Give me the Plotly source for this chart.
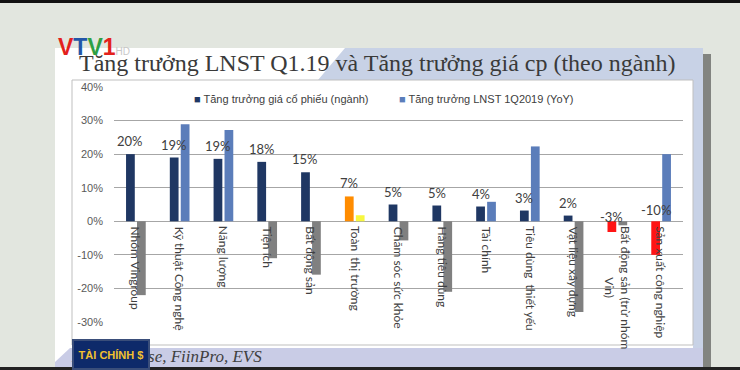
import plotly.graph_objects as go

categories = ["Nhóm Vingroup", "Kỹ thuật Công nghệ", "Năng lượng", "Tiện ích", "Bất động sản",
              "Toàn  thị trường", "Chăm sóc sức khỏe", "Hàng tiêu dùng", "Tài chính",
              "Tiêu dùng  thiết yếu", "Vật liệu xây dựng", "Bất động sản (trừ nhóm<br>Vin)",
              "Sản xuất công nghiệp"]
price_growth = [20.0, 19.0, 18.6, 17.7, 14.6, 7.4, 5.0, 4.7, 4.4, 3.2, 1.7, -3.2, -10.0]
profit_growth = [-22.0, 28.9, 27.2, -11.0, -15.9, 1.8, -5.7, -21.0, 5.8, 22.3, -27.0, -1.2, 20.0]
y_ticks = [-30, -20, -10, 0, 10, 20, 30, 40]
series_names = ["Tăng trưởng giá cổ phiếu (ngành)", "Tăng trưởng LNST 1Q2019 (YoY)"]

NAVY = "#1F3763"
LBLUE = "#5B7DBA"
GRAY = "#808080"
ORANGE = "#FF8C00"
YELLOW = "#F7F740"
RED = "#FF1414"
MARKET = "Toàn  thị trường"

c1 = [ORANGE if c == MARKET else (RED if v < 0 else NAVY) for c, v in zip(categories, price_growth)]
c2 = [YELLOW if c == MARKET else (GRAY if v < 0 else LBLUE) for c, v in zip(categories, profit_growth)]

W, H = 740, 370
L, R, T, B = 114, 683, 87, 322


def px(x):
    return (x - L) / (R - L)


def py(y):
    return (B - y) / (B - T)


fig = go.Figure()
fig.add_trace(go.Bar(x=categories, y=price_growth, name=series_names[0], marker=dict(color=c1, line_width=0)))
fig.add_trace(go.Bar(x=categories, y=profit_growth, name=series_names[1], marker=dict(color=c2, line_width=0)))

shapes = []
shapes.append(dict(type="rect", xref="paper", yref="paper", x0=px(0), x1=px(W), y0=py(0), y1=py(3),
                   fillcolor="#111111", line_width=0, layer="below"))
shapes.append(dict(type="rect", xref="paper", yref="paper", x0=px(703), x1=px(711), y0=py(54), y1=py(370),
                   fillcolor="#6A6C68", line_width=0, layer="below", opacity=0.8))
shapes.append(dict(type="rect", xref="paper", yref="paper", x0=px(55), x1=px(703), y0=py(48), y1=py(370),
                   fillcolor="#FFFFFF", line_width=0, layer="below"))
shapes.append(dict(type="path", xref="paper", yref="paper",
                   path=f"M {px(345)} {py(48)} L {px(703)} {py(48)} L {px(703)} {py(348)} L {px(693)} {py(348)} "
                        f"L {px(693)} {py(80)} L {px(318)} {py(80)} Z",
                   fillcolor="#C8D2E6", line_width=0, layer="below"))
shapes.append(dict(type="path", xref="paper", yref="paper",
                   path=f"M {px(70)} {py(348)} L {px(703)} {py(348)} L {px(703)} {py(368)} L {px(55)} {py(368)} L {px(55)} {py(362)} Z",
                   fillcolor="#C9CCE6", line_width=0, layer="below"))
shapes.append(dict(type="rect", xref="paper", yref="paper", x0=px(0), x1=px(W), y0=py(367), y1=py(370),
                   fillcolor="#222222", line_width=0, layer="below"))
shapes.append(dict(type="rect", xref="paper", yref="paper", x0=px(72), x1=px(693), y0=py(80), y1=py(345),
                   fillcolor="#FFFFFF", line=dict(color="#BFBFBF", width=1), layer="below"))

annotations = []
annotations.append(dict(xref="paper", yref="paper", x=px(377), y=py(63), xanchor="center", yanchor="middle",
                        text="Tăng trưởng LNST Q1.19 và Tăng trưởng giá cp (theo ngành)", showarrow=False,
                        font=dict(family="Liberation Serif", size=24, color="#3A3A3A")))
annotations.append(dict(xref="paper", yref="paper", x=px(56), y=py(47), xanchor="left", yanchor="middle",
                        text="<b><span style='color:#E3211C'>V</span><span style='color:#2356A8'>T</span>"
                             "<span style='color:#2EA043'>V</span><span style='color:#E3211C'>1</span></b>"
                             "<span style='color:#C8C8C8;font-size:10px'>HD</span>",
                        showarrow=False, font=dict(family="Liberation Sans", size=23)))
annotations.append(dict(xref="paper", yref="paper", x=px(192), y=py(99), xanchor="left", yanchor="middle",
                        text=f"<span style='color:{NAVY}'>■</span> {series_names[0]}", showarrow=False,
                        font=dict(family="Liberation Sans", size=11, color="#404040")))
annotations.append(dict(xref="paper", yref="paper", x=px(397), y=py(99), xanchor="left", yanchor="middle",
                        text=f"<span style='color:{LBLUE}'>■</span> {series_names[1]}", showarrow=False,
                        font=dict(family="Liberation Sans", size=11, color="#404040")))
for c, v in zip(categories, price_growth):
    annotations.append(dict(x=c, y=max(v, 0), xref="x", yref="y", xanchor="center", yanchor="bottom",
                            xshift=-5.5, yshift=3 if v >= 0 else (-6 if v > -5 else 1),
                            text=f"{round(v)}%", showarrow=False,
                            font=dict(family="Lato", size=13, color="#404040")))
for c in categories:
    annotations.append(dict(x=c, y=0, xref="x", yref="y", xanchor="center", yanchor="top", yshift=-3,
                            textangle=90, text=c, showarrow=False,
                            font=dict(family="Lato", size=12, color="#404040")))
annotations.append(dict(xref="paper", yref="paper", x=px(69), y=py(356), xanchor="left", yanchor="middle",
                        text="<i>Nguồn: Hose, FiinPro, EVS</i>", showarrow=False,
                        font=dict(family="Liberation Serif", size=17, color="#404040")))
annotations.append(dict(xref="paper", yref="paper", x=px(72), y=py(370), xanchor="left", yanchor="bottom",
                        text="<b>TÀI CHÍNH $</b>", showarrow=False, width=72, height=25,
                        bgcolor="#0E2A6A", bordercolor="#3A4E7A", borderwidth=2,
                        font=dict(family="Liberation Sans", size=11, color="#F2C12E")))

fig.update_layout(
    width=W, height=H,
    margin=dict(l=L, r=W - R, t=T, b=H - B),
    paper_bgcolor="#E2E6DF",
    plot_bgcolor="rgba(0,0,0,0)",
    barmode="group", bargap=0.5, bargroupgap=0.2,
    showlegend=False,
    shapes=shapes,
    annotations=annotations,
    xaxis=dict(showticklabels=False, showgrid=False, showline=False, ticks="", fixedrange=True),
    yaxis=dict(range=[-30, 40], tickvals=y_ticks, ticktext=[f"{t}%" for t in y_ticks],
               showgrid=True, gridcolor="#A6A6A6", gridwidth=1, zeroline=True, zerolinecolor="#A6A6A6",
               zerolinewidth=1, showline=False, ticks="", ticklabelstandoff=10,
               tickfont=dict(family="Liberation Sans", size=11, color="#595959")),
)

fig.write_html("out.html", config={"displayModeBar": False},
               post_script="document.body.style.margin='0';document.body.style.overflow='hidden';")
